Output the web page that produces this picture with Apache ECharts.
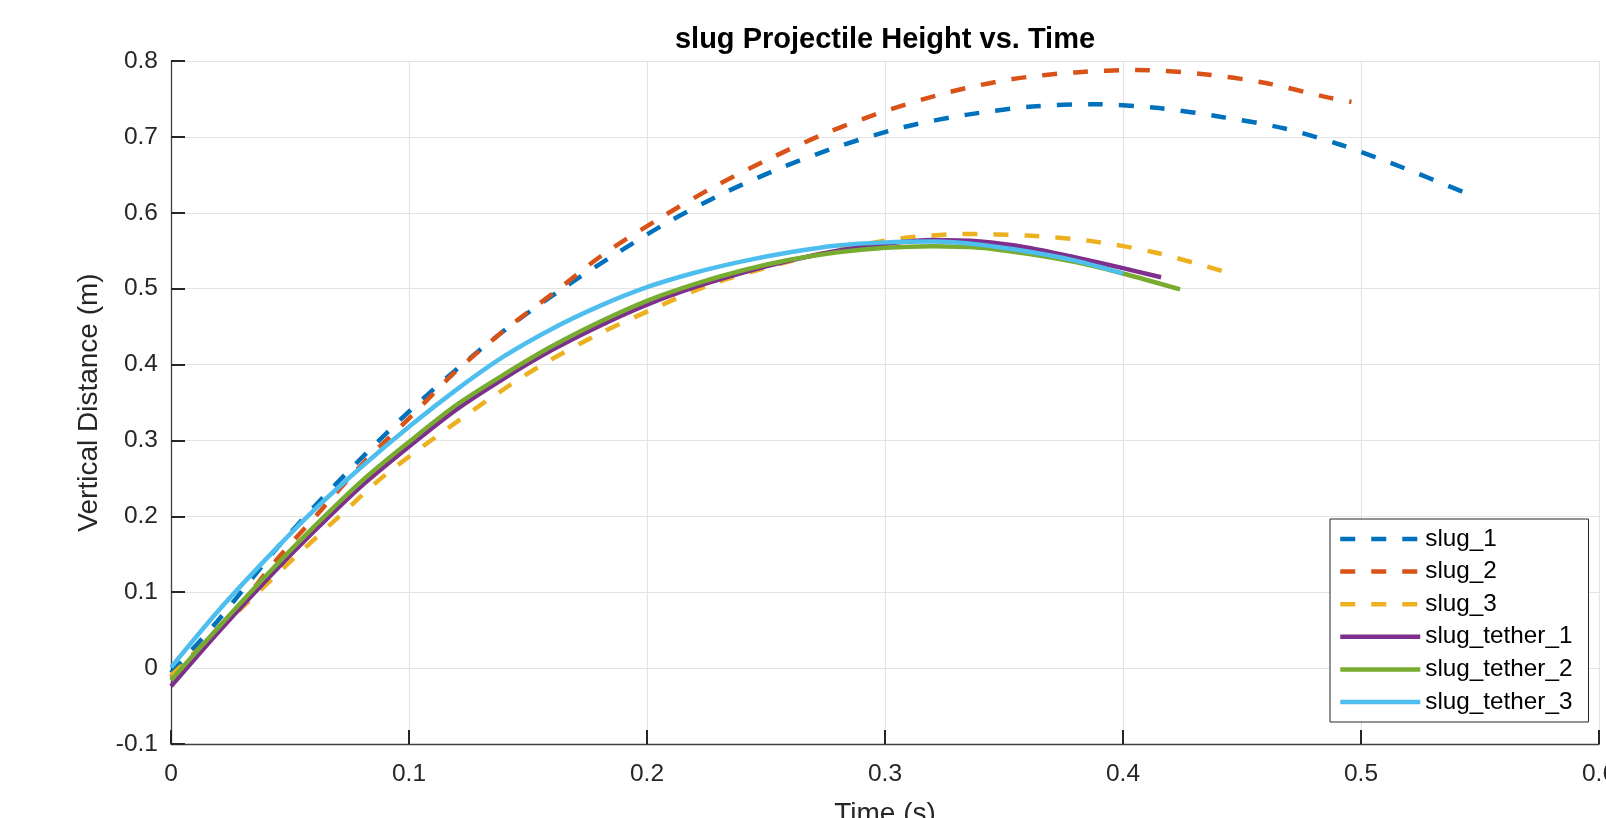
<!DOCTYPE html>
<html>
<head>
<meta charset="utf-8">
<title>slug Projectile Height vs. Time</title>
<script src="https://cdn.jsdelivr.net/npm/echarts@6/dist/echarts.min.js"></script>
<style>
  html, body { margin: 0; padding: 0; background: #fff; }
  #main { width: 1606px; height: 818px; }
</style>
</head>
<body>
<div id="main"></div>
<script>
// time (s), height (m)
var slug1 = [[0, -0.006], [0.019, 0.060], [0.045, 0.160], [0.063, 0.222], [0.082, 0.283], [0.101, 0.341],
  [0.122, 0.399], [0.143, 0.452], [0.164, 0.499], [0.186, 0.544], [0.209, 0.588], [0.233, 0.627],
  [0.257, 0.660], [0.282, 0.689], [0.308, 0.713], [0.334, 0.729], [0.362, 0.740], [0.388, 0.743],
  [0.415, 0.738], [0.442, 0.726], [0.468, 0.711], [0.492, 0.689], [0.518, 0.659], [0.544, 0.626]];
var slug2 = [[0, -0.012], [0.028, 0.080], [0.045, 0.145], [0.063, 0.208], [0.081, 0.271], [0.100, 0.329],
  [0.119, 0.389], [0.140, 0.445], [0.161, 0.495], [0.182, 0.546], [0.205, 0.592], [0.228, 0.634],
  [0.252, 0.672], [0.276, 0.706], [0.302, 0.736], [0.327, 0.759], [0.353, 0.776], [0.380, 0.785],
  [0.406, 0.788], [0.433, 0.783], [0.460, 0.771], [0.486, 0.752], [0.496, 0.746]];
var slug3 = [[0, -0.010], [0.030, 0.080], [0.050, 0.140], [0.070, 0.198], [0.089, 0.252], [0.111, 0.304],
  [0.133, 0.353], [0.155, 0.398], [0.179, 0.439], [0.203, 0.474], [0.228, 0.507], [0.254, 0.531],
  [0.280, 0.551], [0.306, 0.566], [0.333, 0.572], [0.360, 0.570], [0.386, 0.563], [0.413, 0.548],
  [0.442, 0.523]];
var tether1 = [[0, -0.024], [0.02, 0.048], [0.04, 0.116], [0.06, 0.180], [0.08, 0.240], [0.10, 0.292],
  [0.12, 0.341], [0.14, 0.382], [0.16, 0.419], [0.18, 0.451], [0.20, 0.479], [0.22, 0.502],
  [0.24, 0.521], [0.26, 0.537], [0.28, 0.550], [0.30, 0.559], [0.32, 0.564], [0.34, 0.562],
  [0.36, 0.554], [0.38, 0.541], [0.40, 0.527], [0.416, 0.515]];
var tether2 = [[0, -0.016], [0.02, 0.054], [0.04, 0.122], [0.06, 0.186], [0.08, 0.246], [0.10, 0.298],
  [0.12, 0.347], [0.14, 0.387], [0.16, 0.424], [0.18, 0.456], [0.20, 0.484], [0.22, 0.506],
  [0.24, 0.524], [0.26, 0.538], [0.28, 0.548], [0.30, 0.554], [0.32, 0.556], [0.34, 0.554],
  [0.36, 0.546], [0.38, 0.535], [0.40, 0.520], [0.424, 0.499]];
var tether3 = [[0, 0.001], [0.02, 0.076], [0.04, 0.144], [0.06, 0.208], [0.08, 0.265], [0.10, 0.318],
  [0.12, 0.367], [0.14, 0.411], [0.16, 0.447], [0.18, 0.477], [0.20, 0.502], [0.22, 0.521],
  [0.24, 0.536], [0.26, 0.548], [0.28, 0.557], [0.30, 0.561], [0.32, 0.562], [0.34, 0.558],
  [0.36, 0.549], [0.38, 0.537], [0.40, 0.520]];

var names = ["slug_1", "slug_2", "slug_3", "slug_tether_1", "slug_tether_2", "slug_tether_3"];
var colors = ["#0072BD", "#D95319", "#EDB120", "#7E2F8E", "#77AC30", "#4DBEEE"];
var dashed = [true, true, true, false, false, false];
var allData = [slug1, slug2, slug3, tether1, tether2, tether3];

var font = "'Liberation Sans', Arial, sans-serif";

var series = [];
for (var i = 0; i < names.length; i++) {
  series.push({
    name: names[i],
    type: "line",
    data: allData[i],
    symbol: "none",
    smooth: 0.3,
    color: colors[i],
    lineStyle: {
      width: 4.5,
      color: colors[i],
      type: dashed[i] ? [15, 16] : "solid",
      cap: "butt"
    },
    itemStyle: { color: colors[i] },
    silent: true
  });
}

var gridLine = { show: true, lineStyle: { color: "#e3e3e3", width: 1.2 } };

var myChart = echarts.init(document.getElementById("main"));
myChart.setOption({
  animation: false,
  backgroundColor: "#fff",
  title: {
    text: "slug Projectile Height vs. Time",
    left: 885,
    textAlign: "center",
    top: 25,
    padding: 0,
    textStyle: { fontFamily: font, fontSize: 29, fontWeight: "bold", color: "#000" }
  },
  grid: { left: 171, top: 61, right: 7, bottom: 74, containLabel: false, outerBoundsMode: "none" },
  xAxis: {
    type: "value",
    min: 0, max: 0.6, interval: 0.1,
    name: "Time (s)",
    nameLocation: "middle",
    nameGap: 56,
    nameTextStyle: { fontFamily: font, fontSize: 28, color: "#262626" },
    axisLine: { show: true, onZero: false, lineStyle: { color: "#404040", width: 1.3 } },
    axisTick: { show: true, inside: true, length: 14, lineStyle: { color: "#262626", width: 2 } },
    axisLabel: { fontFamily: font, fontSize: 24.5, color: "#262626", margin: 18, showMaxLabel: true },
    splitLine: gridLine
  },
  yAxis: {
    type: "value",
    min: -0.1, max: 0.8, interval: 0.1,
    name: "Vertical Distance (m)",
    nameLocation: "middle",
    nameGap: 68,
    nameTextStyle: { fontFamily: font, fontSize: 28, color: "#262626" },
    axisLine: { show: true, onZero: false, lineStyle: { color: "#404040", width: 1.3 } },
    axisTick: { show: true, inside: true, length: 14, lineStyle: { color: "#262626", width: 2 } },
    axisLabel: { fontFamily: font, fontSize: 24.5, color: "#262626", margin: 13 },
    splitLine: gridLine
  },
  legend: {
    data: names,
    orient: "vertical",
    left: 1330,
    top: 519,
    padding: [8, 16, 8, 8],
    backgroundColor: "#fff",
    borderColor: "#262626",
    borderWidth: 1,
    itemWidth: 80,
    itemHeight: 14,
    itemGap: 8.6,
    itemStyle: { opacity: 0 },
    lineStyle: { width: 4.5 },
    textStyle: { fontFamily: font, fontSize: 24.3, lineHeight: 24, color: "#000" },
    selectedMode: false
  },
  series: series
});
</script>
</body>
</html>
